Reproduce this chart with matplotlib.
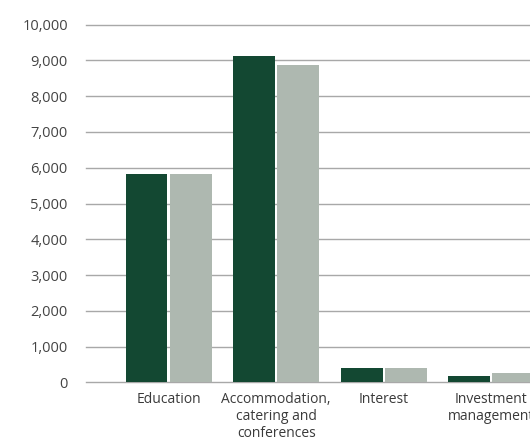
import matplotlib.pyplot as plt
import numpy as np

plt.rcParams['font.family'] = ['Open Sans', 'DejaVu Sans']

categories = ['Education', 'Accommodation,\ncatering and\nconferences', 'Interest', 'Investment\nmanagement']
current_year = [5830, 9120, 410, 190]
prior_year = [5830, 8870, 410, 265]
yticks = np.arange(0, 10001, 1000)

dark_green = '#134832'
grey_green = '#aeb8b0'

fig = plt.figure(figsize=(5.30, 4.43), dpi=100)
ax = fig.add_axes([0.162, 0.1366, 0.838, 0.808])

x = np.arange(len(categories))
w = 0.388
ax.bar(x - 0.205, current_year, width=w, color=dark_green, zorder=2)
ax.bar(x + 0.205, prior_year, width=w, color=grey_green, zorder=2)

ax.set_xlim(-0.77, 3.36)
ax.set_ylim(0, 10000)
ax.set_yticks(yticks)
ax.set_yticklabels([f'{v:,}' for v in yticks], fontsize=10.5, color='#444444')
ax.set_xticks(x)
ax.set_xticklabels(categories, fontsize=10, color='#3a3a3a', linespacing=1.15)

ax.yaxis.grid(True, color='#a8a8a8', linewidth=1.0)
for gl in ax.get_ygridlines():
    gl.set_clip_on(False)
ax.set_axisbelow(True)
ax.tick_params(axis='both', length=0)
ax.tick_params(axis='y', pad=13)
ax.tick_params(axis='x', pad=7)
for s in ax.spines.values():
    s.set_visible(False)

fig.savefig('out.png', dpi=100)
